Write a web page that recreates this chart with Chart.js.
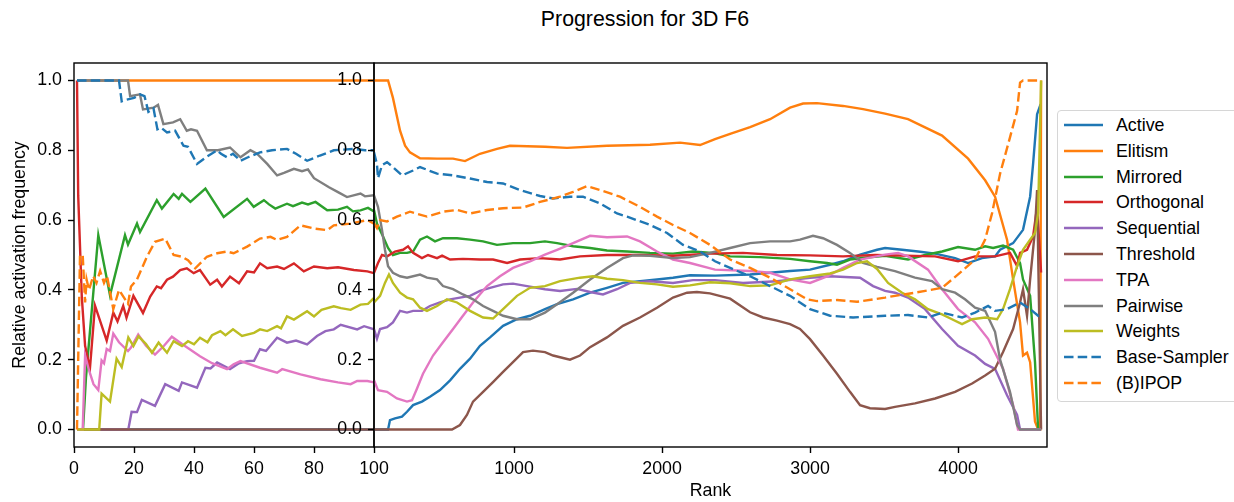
<!DOCTYPE html>
<html>
<head>
<meta charset="utf-8">
<script src="https://cdn.jsdelivr.net/npm/chart.js@4.4.0/dist/chart.umd.min.js"></script>
<style>
  html, body { margin: 0; padding: 0; background: #fff; overflow: hidden; }
  #wrap { position: relative; width: 1234px; height: 502px; font-family: "Liberation Sans", Arial, sans-serif; color: #000; }
  #title { position: absolute; top: 7px; left: 0; width: 1290px; text-align: center; font-size: 21.3px; line-height: 24px; }
  #left { position: absolute; left: 0; top: 0; z-index: 1; }
  #right { position: absolute; left: 320px; top: 0; z-index: 2; }
  #legend { position: absolute; left: 1057px; top: 110px; width: 220px; height: 290px; border: 1px solid #d6d6d6; border-radius: 4px; background: #fff; z-index: 3; }
  .row { position: absolute; left: 0; height: 20px; line-height: 20px; font-size: 17.8px; white-space: nowrap; }
  .row svg { position: absolute; left: 6px; top: 8px; }
  .row span { position: absolute; left: 58px; top: 0; }
</style>
</head>
<body>
<div id="wrap">
  <div id="title">Progression for 3D F6</div>
  <canvas id="left" width="400" height="502"></canvas>
  <canvas id="right" width="740" height="502"></canvas>
  <div id="legend"></div>
</div>
<script>
// --- data: [rank, frequency] pairs, left panel (0..100) and right panel (100..end)
const seriesNames = ['Active', 'Elitism', 'Mirrored', 'Orthogonal', 'Sequential', 'Threshold', 'TPA', 'Pairwise', 'Weights', 'Base-Sampler', '(B)IPOP'];

const activeL = [[1, 0], [100, 0]];
const elitismL = [[1, 1], [100, 1]];
const mirroredL = [[1, 0], [3, 0], [4, .15], [8.1, .557], [12, .385], [17, .557], [18, .53], [21, .59], [22, .566], [27.6, .657], [29.3, .633], [33.2, .675], [34.9, .661], [36, .675], [38.8, .652], [43.8, .69], [49.9, .609], [57.7, .661], [59.9, .638], [63.3, .657], [65, .645], [67.1, .633], [71, .647], [73, .64], [76, .65], [78, .645], [80.5, .652], [84.4, .628], [88, .63], [91, .638], [93, .625], [95.5, .628], [98, .635], [100, .625]];
const orthogonalL = [[1, 1], [1.4, .67], [2.6, .38], [3.7, .24], [5.3, .174], [7, .355], [10.9, .255], [13.1, .335], [14.5, .31], [16.4, .354], [17.5, .32], [19.8, .383], [23, .334], [25.4, .381], [27.6, .41], [29, .405], [31, .429], [33, .438], [35.4, .457], [37.6, .462], [39.9, .448], [42, .457], [45.4, .415], [47.7, .429], [49.3, .41], [52, .438], [55, .419], [57.7, .453], [60, .45], [62, .476], [64.4, .462], [67.7, .467], [70, .46], [73.3, .476], [76.6, .453], [80, .467], [84.4, .462], [88, .465], [93.3, .457], [97.8, .453], [100, .448]];
const sequentialL = [[1, 0], [18.1, 0], [19.2, .051], [21, .05], [22.6, .085], [27, .068], [30.4, .13], [34.9, .111], [36, .135], [41, .12], [43.8, .177], [45.5, .175], [47.7, .192], [52, .173], [55, .19], [57.7, .196], [60, .197], [62, .23], [64, .225], [67.7, .263], [71, .249], [74, .255], [77.7, .244], [81, .268], [83.8, .282], [86.6, .287], [88.9, .3], [94.4, .287], [96.7, .296], [100, .287]];
const thresholdL = [[1, 0], [100, 0]];
const tpaL = [[1, 0], [2.9, 0], [3.7, .212], [5, .17], [6.5, .13], [8.1, .113], [9.2, .198], [10, .19], [10.9, .231], [12, .225], [13.1, .275], [15, .25], [18, .225], [19, .235], [21.4, .272], [24, .24], [27, .215], [30, .24], [32.6, .266], [36, .245], [42, .21], [46, .19], [51, .173], [53.2, .187], [55.5, .196], [62, .177], [67.7, .163], [69.4, .173], [75.5, .158], [82.2, .144], [88, .135], [92.2, .13], [94.4, .139], [97.8, .139], [100, .135]];
const pairwiseL = [[1, 1], [18, 1], [18.7, .955], [22, .96], [23, .917], [26.5, .922], [28, .93], [29.8, .875], [33, .88], [35.4, .889], [37.6, .856], [39, .86], [41, .856], [44.3, .8], [48, .8], [52, .808], [55.5, .78], [58.8, .8], [61, .79], [64.4, .761], [67.7, .728], [70, .735], [73.3, .747], [76, .74], [78, .745], [80, .72], [85, .694], [88, .68], [91, .666], [95.5, .676], [97, .668], [100, .671]];
const weightsL = [[1, 0], [8.4, 0], [9.2, .103], [12, .08], [14.2, .203], [15.9, .179], [18.1, .264], [19.8, .239], [21.5, .267], [24, .245], [26, .22], [28.2, .249], [31, .22], [33.2, .253], [36, .239], [38, .253], [40, .244], [42, .263], [44.5, .25], [46, .27], [48.8, .282], [50.5, .27], [53, .287], [56, .268], [60, .277], [62, .287], [64.4, .282], [67.7, .296], [69, .29], [71, .324], [73.3, .315], [77.7, .339], [80, .324], [82.5, .343], [86.6, .353], [89, .348], [92.2, .343], [95.5, .358], [98, .36], [100, .377]];
const baseSamplerL = [[1, 1], [15, 1], [15.9, .94], [17.5, .945], [20, .95], [22, .96], [23.5, .955], [24.8, .91], [26.5, .92], [27.8, .86], [29, .865], [31, .851], [33.7, .856], [36.5, .813], [38, .81], [41, .761], [44, .78], [47.7, .8], [49, .79], [51, .78], [53, .79], [55.5, .77], [58, .78], [62, .794], [66, .8], [71, .804], [74, .79], [77.7, .77], [82, .785], [86.6, .8], [93.3, .804], [97, .8], [100, .8]];
const ipopL = [[1, 0], [2, .5], [2.9, .5], [3.7, .364], [4.2, .43], [5, .4], [6.4, .44], [7.5, .42], [8.7, .454], [10, .42], [11, .44], [13.1, .345], [15, .4], [16.5, .38], [18, .36], [19, .41], [21, .43], [24.3, .495], [27, .538], [30.4, .547], [33.2, .5], [36, .495], [38, .485], [40.4, .462], [44.3, .495], [47.7, .505], [51, .51], [53.2, .505], [57.7, .524], [62, .547], [65.5, .552], [67.7, .543], [71, .552], [75.5, .585], [80, .576], [84.4, .571], [86.6, .585], [92.2, .59], [97.8, .6], [100, .59]];

const activeR = [[54, 0], [149, 0], [162, .027], [196, .032], [243, .037], [277, .051], [318, .07], [378, .08], [432, .094], [500, .113], [568, .141], [635, .174], [703, .203], [770, .24], [838, .264], [926, .297], [1020, .316], [1108, .326], [1209, .345], [1291, .359], [1399, .373], [1514, .392], [1628, .406], [1736, .42], [1851, .425], [1966, .43], [2074, .435], [2189, .442], [2358, .441], [2595, .444], [2730, .449], [2865, .454], [3000, .458], [3135, .472], [3223, .482], [3338, .501], [3453, .515], [3507, .52], [3622, .515], [3730, .51], [3845, .504], [3980, .491], [4068, .477], [4162, .491], [4250, .496], [4284, .515], [4372, .534], [4439, .572], [4487, .667], [4507, .761], [4534, .903], [4558, .932]];
const elitismR = [[54, 1], [149, 1], [182, .95], [230, .856], [264, .813], [297, .794], [365, .777], [480, .776], [588, .776], [669, .769], [770, .79], [885, .804], [973, .813], [1209, .81], [1358, .807], [1628, .813], [1919, .816], [2122, .822], [2257, .815], [2358, .832], [2460, .847], [2595, .866], [2730, .889], [2865, .922], [2953, .934], [3047, .935], [3223, .927], [3358, .918], [3507, .905], [3662, .889], [3892, .842], [4068, .776], [4183, .714], [4250, .667], [4331, .544], [4372, .43], [4419, .307], [4439, .212], [4466, .22], [4487, .193], [4520, .023], [4541, 0], [4555, 0], [4561, 1]];
const mirroredR = [[54, .629], [74, .59], [115, .553], [149, .52], [182, .5], [230, .506], [277, .506], [318, .51], [365, .544], [412, .553], [466, .539], [520, .548], [615, .548], [703, .544], [791, .539], [885, .529], [993, .534], [1108, .534], [1209, .539], [1291, .534], [1399, .525], [1514, .52], [1628, .513], [1764, .51], [1919, .506], [2074, .504], [2209, .51], [2358, .505], [2460, .496], [2662, .494], [2865, .489], [3000, .482], [3115, .477], [3182, .472], [3270, .487], [3385, .493], [3507, .498], [3662, .487], [3777, .5], [3892, .51], [4000, .523], [4115, .515], [4183, .525], [4237, .52], [4304, .527], [4372, .515], [4419, .477], [4439, .43], [4487, .383], [4520, .193], [4541, 0], [4561, 0]];
const orthogonalR = [[54, .449], [81, .477], [108, .5], [142, .496], [196, .51], [250, .515], [284, .525], [318, .506], [378, .491], [419, .5], [480, .491], [514, .498], [568, .487], [655, .489], [770, .487], [858, .487], [953, .477], [1041, .487], [1176, .491], [1311, .487], [1446, .496], [1628, .5], [1851, .5], [2074, .498], [2324, .504], [2547, .506], [2777, .5], [3000, .499], [3223, .496], [3439, .5], [3845, .496], [4000, .482], [4115, .496], [4250, .496], [4351, .506], [4399, .468], [4419, .506], [4466, .515], [4507, .553], [4534, .638], [4561, .45]];
const sequentialR = [[54, .288], [74, .26], [95, .288], [142, .293], [182, .307], [230, .34], [277, .335], [318, .34], [378, .34], [432, .354], [500, .364], [568, .373], [635, .378], [703, .383], [770, .397], [838, .406], [926, .416], [993, .418], [1088, .411], [1209, .402], [1311, .397], [1426, .403], [1514, .394], [1601, .387], [1696, .402], [1784, .42], [1919, .425], [2074, .42], [2209, .428], [2358, .428], [2547, .42], [2777, .425], [3000, .435], [3135, .439], [3338, .435], [3426, .411], [3507, .397], [3574, .392], [3662, .378], [3777, .345], [3892, .288], [4000, .24], [4115, .212], [4183, .188], [4250, .174], [4331, .098], [4399, .042], [4419, 0], [4561, 0]];
const thresholdR = [[54, 0], [581, 0], [635, .013], [682, .042], [723, .08], [791, .108], [858, .136], [926, .165], [993, .193], [1061, .222], [1128, .226], [1209, .222], [1264, .212], [1378, .2], [1446, .212], [1514, .236], [1628, .264], [1736, .297], [1851, .321], [1966, .349], [2074, .378], [2169, .392], [2236, .394], [2324, .39], [2460, .375], [2595, .336], [2683, .321], [2777, .312], [2865, .302], [2932, .288], [3000, .259], [3088, .212], [3182, .16], [3270, .108], [3338, .07], [3405, .061], [3507, .059], [3574, .065], [3709, .075], [3845, .089], [3980, .108], [4095, .132], [4183, .155], [4250, .174], [4304, .222], [4372, .288], [4419, .364], [4439, .402], [4466, .326], [4487, .43], [4520, .572], [4534, .686], [4561, 0]];
const tpaR = [[54, .141], [81, .113], [142, .108], [209, .089], [277, .08], [311, .084], [344, .117], [385, .16], [453, .212], [520, .25], [588, .288], [655, .326], [723, .364], [818, .411], [905, .439], [993, .463], [1108, .482], [1209, .501], [1291, .515], [1399, .534], [1514, .555], [1628, .551], [1764, .553], [1851, .539], [1966, .51], [2074, .487], [2189, .477], [2358, .458], [2595, .454], [2730, .449], [2865, .43], [3000, .42], [3115, .439], [3223, .463], [3338, .487], [3507, .501], [3595, .506], [3662, .496], [3797, .458], [3892, .402], [4000, .345], [4115, .307], [4203, .26], [4250, .22], [4304, .174], [4372, .07], [4405, 0], [4561, 0]];
const pairwiseR = [[54, .671], [81, .638], [108, .572], [128, .515], [149, .468], [182, .449], [230, .439], [277, .435], [365, .444], [412, .435], [480, .43], [520, .411], [588, .402], [655, .387], [723, .373], [791, .354], [858, .34], [926, .326], [1020, .316], [1108, .316], [1209, .335], [1291, .359], [1399, .392], [1514, .43], [1628, .463], [1736, .491], [1804, .499], [1919, .498], [2074, .491], [2189, .494], [2324, .506], [2460, .52], [2595, .534], [2730, .539], [2865, .539], [2932, .544], [3020, .555], [3088, .548], [3182, .529], [3270, .506], [3358, .477], [3453, .466], [3574, .454], [3709, .435], [3824, .425], [3892, .402], [3980, .392], [4047, .373], [4115, .349], [4183, .34], [4250, .28], [4284, .2], [4351, .108], [4399, .013], [4419, 0], [4561, 0]];
const weightsR = [[54, .364], [95, .383], [128, .42], [155, .444], [182, .42], [230, .392], [277, .378], [318, .373], [365, .349], [412, .34], [480, .354], [547, .373], [615, .364], [703, .34], [791, .321], [858, .318], [926, .345], [1020, .383], [1108, .406], [1209, .411], [1311, .425], [1446, .435], [1534, .439], [1628, .432], [1736, .428], [1851, .42], [1966, .416], [2074, .409], [2189, .413], [2324, .422], [2460, .419], [2595, .411], [2730, .413], [2865, .43], [3000, .439], [3135, .447], [3223, .458], [3318, .477], [3385, .482], [3453, .46], [3527, .42], [3622, .392], [3709, .373], [3797, .345], [3892, .33], [3959, .316], [4027, .302], [4095, .316], [4183, .321], [4264, .316], [4304, .345], [4351, .402], [4399, .468], [4439, .515], [4487, .544], [4520, .563], [4541, .62], [4561, 1]];
const baseSamplerR = [[54, .794], [74, .76], [81, .72], [108, .757], [142, .766], [182, .752], [243, .728], [318, .742], [365, .752], [480, .733], [588, .728], [703, .719], [818, .709], [926, .705], [1041, .686], [1176, .669], [1264, .662], [1378, .667], [1466, .667], [1581, .648], [1696, .619], [1764, .61], [1919, .586], [2034, .563], [2142, .529], [2257, .51], [2358, .482], [2460, .463], [2595, .439], [2730, .411], [2865, .383], [3000, .345], [3135, .326], [3291, .321], [3507, .326], [3662, .328], [3797, .321], [3892, .335], [4027, .321], [4115, .335], [4203, .354], [4250, .34], [4331, .345], [4419, .364], [4487, .345], [4541, .326], [4561, .33]];
const ipopR = [[54, .591], [74, .577], [95, .6], [142, .596], [209, .61], [297, .624], [412, .61], [520, .624], [615, .629], [703, .619], [818, .629], [926, .634], [1061, .636], [1176, .652], [1311, .667], [1399, .681], [1493, .697], [1581, .686], [1716, .667], [1851, .638], [1966, .61], [2074, .586], [2189, .563], [2324, .529], [2460, .487], [2595, .463], [2730, .435], [2865, .402], [2980, .373], [3047, .368], [3182, .371], [3318, .366], [3507, .378], [3574, .383], [3709, .392], [3892, .406], [4027, .454], [4115, .487], [4183, .544], [4230, .62], [4284, .733], [4351, .837], [4399, .913], [4419, .994], [4439, 1], [4561, 1]];

const leftData = [activeL, elitismL, mirroredL, orthogonalL, sequentialL, thresholdL, tpaL, pairwiseL, weightsL, baseSamplerL, ipopL];
const rightData = [activeR, elitismR, mirroredR, orthogonalR, sequentialR, thresholdR, tpaR, pairwiseR, weightsR, baseSamplerR, ipopR];

const yTicks = [0, 0.2, 0.4, 0.6, 0.8, 1.0];
const leftXTicks = [0, 20, 40, 60, 80, 100];
const rightXTicks = [1000, 2000, 3000, 4000];

// --- styles
const colors = ['#1f77b4', '#ff7f0e', '#2ca02c', '#d62728', '#9467bd', '#8c564b', '#e377c2', '#7f7f7f', '#bcbd22', '#1f77b4', '#ff7f0e'];
const dashed = [false, false, false, false, false, false, false, false, false, true, true];
const FONT = 17.8;

Chart.defaults.font.family = '"Liberation Sans", Arial, sans-serif';
Chart.defaults.color = '#000';

function makeDatasets(arrs) {
    return arrs.map((a, i) => ({
        label: seriesNames[i],
        data: a.map(p => ({ x: p[0], y: p[1] })),
        borderColor: colors[i],
        borderWidth: 2.4,
        borderDash: dashed[i] ? [9.5, 4.2] : [],
        pointRadius: 0,
        tension: 0,
        fill: false,
        order: arrs.length - i
    }));
}

// black box round the axes
const framePlugin = {
    id: 'frame',
    afterDraw(chart) {
        const { ctx, chartArea: a } = chart;
        ctx.save();
        ctx.strokeStyle = '#000';
        ctx.lineWidth = 1.4;
        ctx.strokeRect(a.left, a.top, a.right - a.left, a.bottom - a.top);
        ctx.restore();
    }
};

const tickGrid = { display: true, drawOnChartArea: false, drawTicks: true, tickLength: 6, color: '#000', tickColor: '#000', tickWidth: 1.4 };

function yScale(width, withTitle) {
    return {
        type: 'linear', min: -0.05, max: 1.05,
        afterBuildTicks: s => { s.ticks = yTicks.map(v => ({ value: v })); },
        afterFit: s => { s.width = width; },
        grid: tickGrid,
        border: { display: false },
        ticks: { color: '#000', font: { size: FONT }, padding: 6, callback: v => v.toFixed(1) },
        title: withTitle
            ? { display: true, text: 'Relative activation frequency', color: '#000', font: { size: FONT }, padding: { top: 9, bottom: 0 } }
            : { display: false }
    };
}

function xScale(min, max, ticks, withTitle) {
    return {
        type: 'linear', min: min, max: max,
        afterBuildTicks: s => { s.ticks = ticks.map(v => ({ value: v })); },
        afterFit: s => { s.height = 55; },
        grid: tickGrid,
        border: { display: false },
        ticks: { color: '#000', font: { size: FONT }, padding: 5, maxRotation: 0, autoSkip: false, callback: v => String(v) },
        title: withTitle
            ? { display: true, text: 'Rank', color: '#000', font: { size: FONT }, padding: { top: 0, bottom: 0 } }
            : { display: false }
    };
}

function baseOptions(padRight) {
    return {
        responsive: false,
        animation: false,
        devicePixelRatio: 1,
        layout: { padding: { top: 63, right: padRight, left: 0, bottom: 0 } },
        plugins: { legend: { display: false }, tooltip: { enabled: false } }
    };
}

new Chart(document.getElementById('left'), {
    type: 'line',
    data: { datasets: makeDatasets(leftData) },
    options: Object.assign(baseOptions(26), {
        scales: { x: xScale(0, 100, leftXTicks, false), y: yScale(74, true) }
    }),
    plugins: [framePlugin]
});

new Chart(document.getElementById('right'), {
    type: 'line',
    data: { datasets: makeDatasets(rightData) },
    options: Object.assign(baseOptions(13), {
        scales: { x: xScale(54, 4601, rightXTicks, true), y: yScale(54, false) }
    }),
    plugins: [framePlugin]
});

// legend
const legend = document.getElementById('legend');
seriesNames.forEach((name, i) => {
    const row = document.createElement('div');
    row.className = 'row';
    row.style.top = (4 + i * 25.8) + 'px';
    row.style.width = '220px';
    const dash = dashed[i] ? ' stroke-dasharray="9.5 4.2"' : '';
    row.innerHTML = '<svg width="40" height="4"><line x1="0" y1="2" x2="39" y2="2" stroke="' + colors[i] + '" stroke-width="2.6"' + dash + '/></svg><span>' + name + '</span>';
    legend.appendChild(row);
});
</script>
</body>
</html>
